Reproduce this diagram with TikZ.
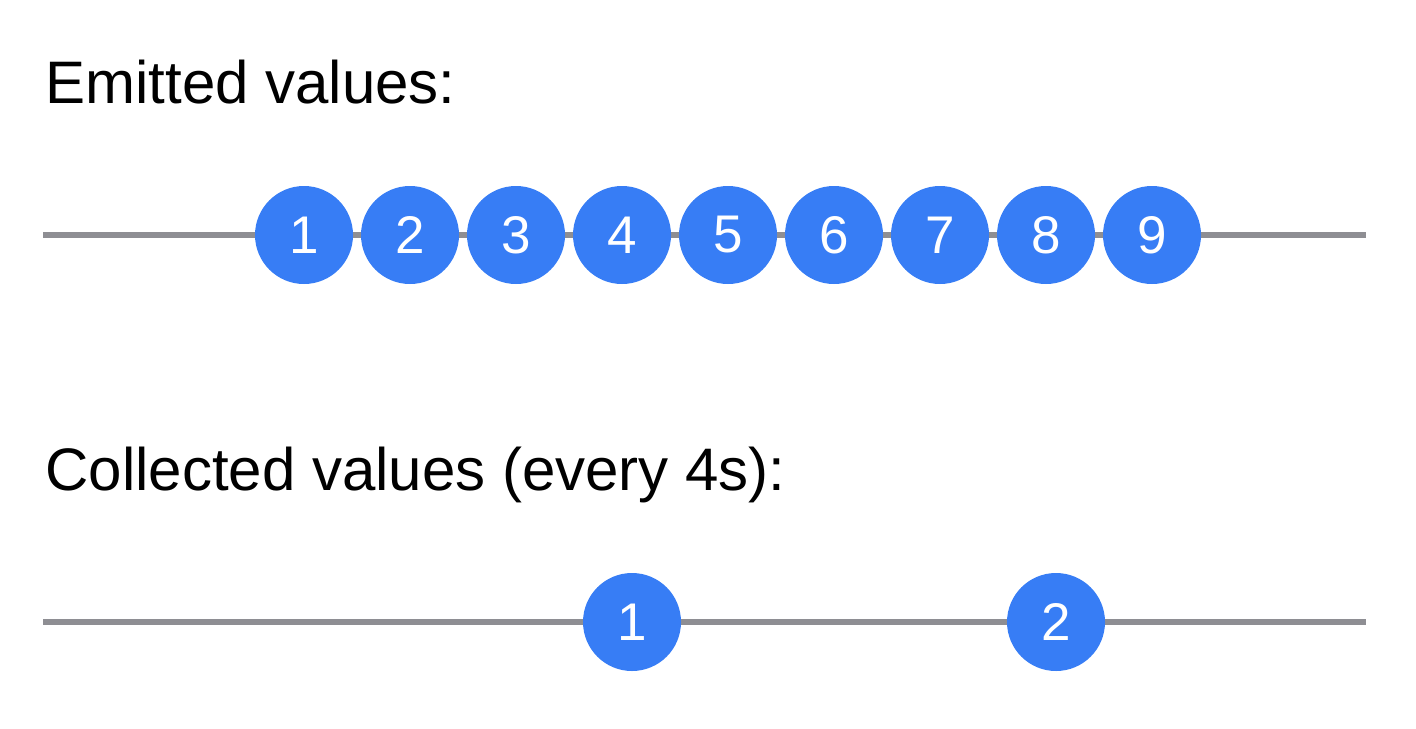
\documentclass[tikz,border=0pt]{standalone}
\usepackage{fontspec}
\setmainfont{Liberation Sans}
\usetikzlibrary{positioning}
\definecolor{ballblue}{HTML}{377DF5}
\definecolor{linegray}{HTML}{8E8E93}
\tikzset{
  ball/.style={circle, fill=ballblue, text=white, minimum size=49pt, inner sep=0pt,
    font=\fontsize{26.5}{30}\selectfont},
  timeline/.style={draw=linegray, line width=2.75pt},
  caption/.style={anchor=base west, inner sep=0pt, font=\fontsize{30}{36}\selectfont}
}

\begin{document}
\begin{tikzpicture}[x=0.5pt,y=-0.5pt]
    \useasboundingbox (0,0) rectangle (1416,728);
    % emitted stream
    \node[caption] (emitted) at (45,103) {Emitted values:};
    \coordinate (em-start) at (43,235);
    \coordinate (em-end) at (1366,235);
    \draw[timeline] (em-start) -- (em-end);
    \foreach \n in {1,...,9} {
        \node[ball] (em\n) at ({304+106*(\n-1)},235) {\n};
    }
    % collected stream
    \node[caption] (collected) at (45,490) {Collected values (every 4s):};
    \coordinate (co-start) at (43,622);
    \coordinate (co-end) at (1366,622);
    \draw[timeline] (co-start) -- (co-end);
    \node[ball] (co1) at (632,622) {1};
    \node[ball] (co2) at (1056,622) {2};
\end{tikzpicture}
\end{document}
